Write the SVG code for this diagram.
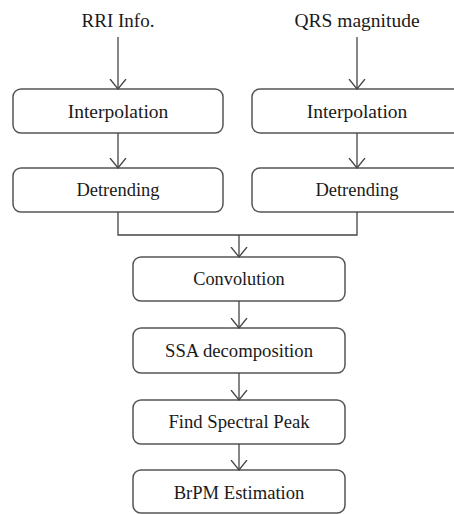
<svg xmlns="http://www.w3.org/2000/svg" width="454" height="514" viewBox="0 0 454 514">
<defs>
<marker id="arr" viewBox="0 0 20 20" refX="10" refY="10" markerWidth="20" markerHeight="20" markerUnits="userSpaceOnUse" orient="auto">
<path d="M0,2 L10,10 L0,18" fill="none" stroke="#444" stroke-width="1.3"/>
</marker>
<style>
.box{fill:#fff;stroke:#555;stroke-width:1.5}
.t{font-family:'Liberation Serif','Times New Roman',Times,serif;font-size:19px;fill:#1a1a1a;text-anchor:middle}
.c{fill:none;stroke:#444;stroke-width:1.3}
</style>
</defs>
<rect width="454" height="514" fill="#fff"/>
<g font-family="Liberation Serif, Times New Roman, serif">
<g id="in-rri"><text class="t" x="118" y="27">RRI  Info.</text></g>
<g id="in-qrs"><text class="t" x="357" y="27" style="font-size:19.5px">QRS magnitude</text></g>
<g id="interp-l"><rect class="box" x="13" y="89" width="210" height="44" rx="8"/><text class="t" x="118" y="118" style="font-size:19.5px">Interpolation</text></g>
<g id="interp-r"><rect class="box" x="252" y="89" width="215" height="44" rx="8"/><text class="t" x="357" y="118" style="font-size:19.5px">Interpolation</text></g>
<g id="detr-l"><rect class="box" x="13" y="168" width="210" height="44" rx="8"/><text class="t" x="118" y="196" style="font-size:18.5px">Detrending</text></g>
<g id="detr-r"><rect class="box" x="252" y="168" width="215" height="44" rx="8"/><text class="t" x="357" y="196" style="font-size:18.5px">Detrending</text></g>
<g id="conv"><rect class="box" x="133" y="257" width="212" height="44" rx="8"/><text class="t" x="239" y="285" style="font-size:18.3px">Convolution</text></g>
<g id="ssa"><rect class="box" x="133" y="328" width="212" height="45" rx="8"/><text class="t" x="239" y="357" style="font-size:18.7px">SSA decomposition</text></g>
<g id="peak"><rect class="box" x="133" y="400" width="212" height="44" rx="8"/><text class="t" x="239" y="428" style="font-size:18.7px">Find Spectral Peak</text></g>
<g id="brpm"><rect class="box" x="133" y="470" width="212" height="43" rx="8"/><text class="t" x="239" y="499" style="font-size:18.6px">BrPM Estimation</text></g>
</g>
<g id="connectors">
<line class="c" x1="118" y1="37" x2="118" y2="89" marker-end="url(#arr)"/>
<line class="c" x1="357" y1="37" x2="357" y2="89" marker-end="url(#arr)"/>
<line class="c" x1="118" y1="133" x2="118" y2="168" marker-end="url(#arr)"/>
<line class="c" x1="357" y1="133" x2="357" y2="168" marker-end="url(#arr)"/>
<polyline class="c" points="118,212 118,235 357,235 357,212"/>
<line class="c" x1="239" y1="235" x2="239" y2="257" marker-end="url(#arr)"/>
<line class="c" x1="239" y1="301" x2="239" y2="328" marker-end="url(#arr)"/>
<line class="c" x1="239" y1="373" x2="239" y2="400" marker-end="url(#arr)"/>
<line class="c" x1="239" y1="444" x2="239" y2="470" marker-end="url(#arr)"/>
</g>
</svg>
